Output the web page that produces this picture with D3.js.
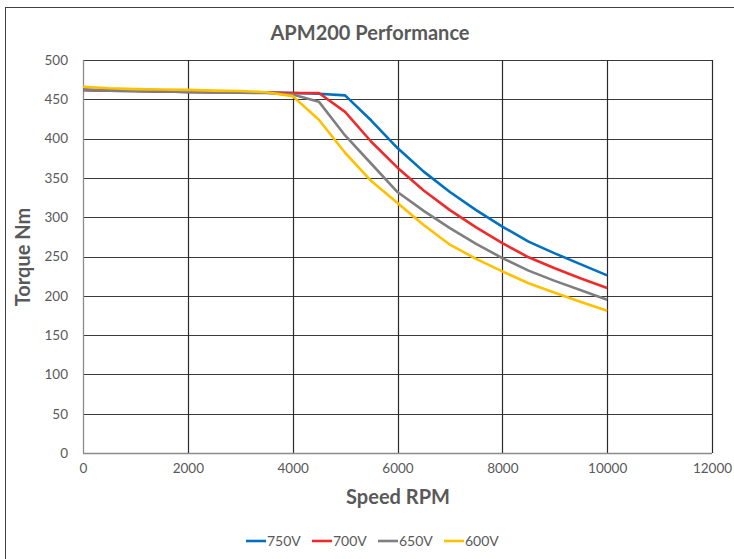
<!DOCTYPE html>
<html><head><meta charset="utf-8">
<script src="https://cdn.jsdelivr.net/npm/d3@7"></script>
<style>body{margin:0;background:#fff;}svg{display:block;font-family:Lato,"Open Sans",sans-serif;}</style>
</head><body><svg id="c" width="734" height="559"></svg>
<script>
const speeds = [0,500,1000,1500,2000,2500,3000,3500,4000,4500,5000,5500,6000,6500,7000,7500,8000,8500,9000,9500,10000];
const v750 = [462,461,460.5,460,459.5,459,459,458.5,458,457,455,423,388,358,332,309,288,269,254,240,226];
const v700 = [462,461,460.5,460,459.5,459,459,458.5,458,458,434,396,363,334,309,287,267,249,235,222,210];
const v650 = [462,461,460.5,460,459.5,459,458.5,458,456,447,404,368,332,308,286,266,248,232,219,207,195];
const v600 = [466,464,463,462.5,462,461,460.5,459,454,424,382,346,318,290,265,247,231,216,204,192,181];
const seriesNames = ["750V","700V","650V","600V"];
const seriesColors = ["#0070C0","#EE2A2A","#7F7F7F","#FFC000"];
const xTicks = [0,2000,4000,6000,8000,10000,12000];
const yTicks = [0,50,100,150,200,250,300,350,400,450,500];

const svg = d3.select("#c");
svg.append("rect").attr("x",5.5).attr("y",7.5).attr("width",740).attr("height",560)
  .attr("fill","#fff").attr("stroke","#404040").attr("stroke-width",1);

const L=83,R=712,T=60,B=453;
const x = d3.scaleLinear().domain([0,12000]).range([L,R]);
const y = d3.scaleLinear().domain([0,500]).range([B,T]);

// grid
svg.append("g").selectAll("line").data(yTicks.filter(d=>d>0)).join("line")
  .attr("x1",L).attr("x2",R).attr("y1",d=>Math.round(y(d))+0.5).attr("y2",d=>Math.round(y(d))+0.5)
  .attr("stroke","#3a3a3a").attr("stroke-width",1.2);
svg.append("g").selectAll("line").data(xTicks.filter(d=>d>0)).join("line")
  .attr("y1",T).attr("y2",B).attr("x1",d=>Math.round(x(d))+0.5).attr("x2",d=>Math.round(x(d))+0.5)
  .attr("stroke","#2a2a2a").attr("stroke-width",1.2);
// axis lines
svg.append("line").attr("x1",L+0.5).attr("x2",L+0.5).attr("y1",T).attr("y2",B).attr("stroke","#8c8c8c").attr("stroke-width",1.3);
svg.append("line").attr("x1",L).attr("x2",R).attr("y1",B+0.5).attr("y2",B+0.5).attr("stroke","#8c8c8c").attr("stroke-width",1.3);

// tick labels via axes
const yAxis = svg.append("g").attr("transform",`translate(${L},0)`)
  .call(d3.axisLeft(y).tickValues(yTicks).tickSize(0).tickPadding(15));
const xAxis = svg.append("g").attr("transform",`translate(0,${B})`)
  .call(d3.axisBottom(x).tickValues(xTicks).tickSize(0).tickPadding(10).tickFormat(d3.format("d")));
[yAxis,xAxis].forEach(a=>{
  a.select(".domain").remove();
  a.selectAll("text").attr("fill","#595959").style("font-size","13.5px").style("font-family","Lato,'Open Sans',sans-serif");
});

// lines
const allSeries = [v750,v700,v650,v600];
const lineGen = d3.line().x((d,i)=>x(speeds[i])).y(d=>y(d));
allSeries.forEach((s,k)=>{
  svg.append("path").datum(s).attr("d",lineGen).attr("fill","none")
    .attr("stroke",seriesColors[k]).attr("stroke-width",2.6).attr("stroke-linejoin","round");
});

// titles
svg.append("text").attr("x",370).attr("y",40).attr("text-anchor","middle")
  .attr("fill","#595959").style("font-size","20px").style("font-weight","bold").text("APM200 Performance");
svg.append("text").attr("x",398).attr("y",504).attr("text-anchor","middle")
  .attr("fill","#595959").style("font-size","20px").style("font-weight","bold").text("Speed RPM");
svg.append("text").attr("transform","translate(30,257) rotate(-90)").attr("text-anchor","middle")
  .attr("fill","#595959").style("font-size","20px").style("font-weight","bold").text("Torque Nm");

// legend
const lg = svg.append("g");
seriesNames.forEach((n,k)=>{
  const x0 = 246 + k*66;
  lg.append("line").attr("x1",x0).attr("x2",x0+20).attr("y1",541).attr("y2",541)
    .attr("stroke",seriesColors[k]).attr("stroke-width",2.6);
  lg.append("text").attr("x",x0+21).attr("y",546).attr("fill","#595959")
    .style("font-size","14px").text(n);
});
</script></body></html>
